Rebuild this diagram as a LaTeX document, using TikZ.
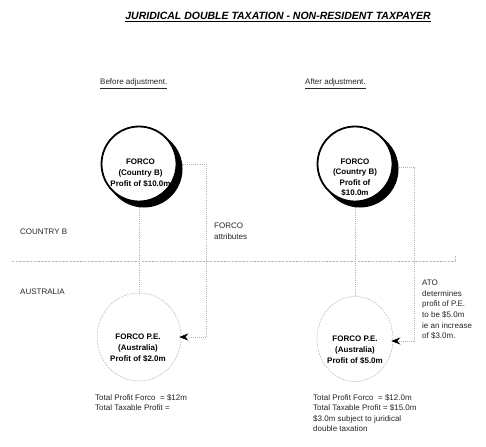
\documentclass[tikz,border=0pt]{standalone}
\usepackage{fontspec}
\setmainfont{Liberation Sans}
\usetikzlibrary{arrows.meta,shapes.geometric}
\pgfdeclarelayer{bg}
\pgfdeclarelayer{paper}
\pgfsetlayers{paper,bg,main}
\begin{document}
\begin{tikzpicture}[x=1pt,y=-1pt,
  txt/.style={font=\fontsize{8}{10.6}\selectfont, inner sep=0pt, align=left, anchor=north west, text=black!85},
  ctxt/.style={font=\fontsize{8}{10.6}\selectfont\bfseries, inner sep=0pt, align=center},
  dotline/.style={draw=gray!60, line width=0.6pt, dash pattern=on 0.7pt off 1.4pt},
  divline/.style={draw=gray!55, line width=0.6pt, dash pattern=on 2.4pt off 1.2pt},
  mainc/.style={circle, draw=black, line width=1.8pt, fill=white, minimum size=75pt, inner sep=0pt},
  shadowc/.style={circle, fill=black, minimum size=77pt, inner sep=0pt},
  pec/.style={ellipse, draw=gray!55, line width=0.5pt, dash pattern=on 2pt off 1pt, inner sep=0pt},
  tip/.style={-{Stealth[length=9pt,width=7pt,inset=3pt,black]}}
]
\useasboundingbox (0,0) rectangle (486,446);
\begin{pgfonlayer}{paper}
\fill[white] (0,0) rectangle (486,446);
\end{pgfonlayer}

% title and headings
\node[font=\fontsize{10.5}{12}\selectfont\bfseries\itshape, inner sep=0pt] (title) at (278,17)
  {\underline{JURIDICAL DOUBLE TAXATION - NON-RESIDENT TAXPAYER}};
\node[txt] (before) at (100,79) {\underline{Before adjustment.}};
\node[txt] (after) at (305,79) {\underline{After adjustment.}};

% region labels
\node[txt] (cb) at (20,229) {COUNTRY B};
\node[txt] (au) at (20,289) {AUSTRALIA};

% divider
\draw[divline] (12,261) -- (455,261) -- (455,256);

% top circles
\node[shadowc] (c1s) at (144,169) {};
\node[mainc] (c1) at (139,164) {};
\node[ctxt] (t1) at (140.5,173) {FORCO\\(Country B)\\Profit of \$10.0m};

\node[shadowc] (c2s) at (360,169) {};
\node[mainc] (c2) at (355,164) {};
\node[ctxt] (t2) at (355,177.5) {FORCO\\(Country B)\\Profit of\\\$10.0m};

% lower circles
\node[pec, minimum width=84pt, minimum height=88pt] (p1) at (139,337) {};
\node[ctxt] (t3) at (138,348) {FORCO P.E.\\(Australia)\\Profit of \$2.0m};

\node[pec, minimum width=76pt, minimum height=85pt] (p2) at (355,339) {};
\node[ctxt] (t4) at (355,350) {FORCO P.E.\\(Australia)\\Profit of \$5.0m};

% side texts
\node[txt] (attr) at (214,223) {FORCO\\attributes};
\node[txt] (ato) at (422,280) {ATO\\determines\\profit of P.E.\\to be \$5.0m\\ie an increase\\of \$3.0m.};

% totals
\node[txt] (tot1) at (95,394) {Total Profit Forco\ \ = \$12m\\Total Taxable Profit =};
\node[txt] (tot2) at (313,394) {Total Profit Forco\ \ = \$12.0m\\Total Taxable Profit = \$15.0m\\\$3.0m subject to juridical\\double taxation};

% connectors
\coordinate (k1) at (206,164);
\coordinate (k2) at (206,337);
\coordinate (k3) at (414,167);
\coordinate (k4) at (414,341);
\begin{pgfonlayer}{bg}
\draw[dotline] (c1.south) -- (p1.north);
\draw[dotline] (c2.south) -- (p2.north);
\draw[dotline] (k1 -| c1s.east) -- (k1) -- (k2);
\draw[dotline] (k3 -| c2s.east) -- (k3) -- (k4);
\end{pgfonlayer}
\draw[dotline, tip, shorten >=-2pt] (k2) -- (k2 -| p1.east);
\draw[dotline, tip, shorten >=-2pt] (k4) -- (k4 -| p2.east);
\end{tikzpicture}
\end{document}
